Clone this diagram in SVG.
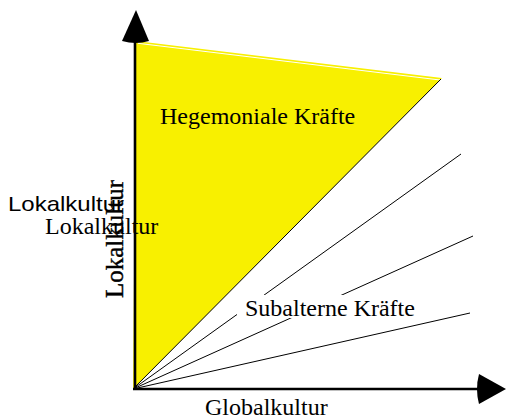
<svg xmlns="http://www.w3.org/2000/svg" width="507" height="419" viewBox="0 0 507 419">
<style>
.serif{font-family:"Liberation Serif","Times New Roman",serif;font-size:24px;fill:#000}
.sans{font-family:"Liberation Sans",Arial,sans-serif;font-size:21px;fill:#000}
.ray{stroke:#000;stroke-width:1;fill:none}
.axis{stroke:#000;stroke-width:2.6;fill:none}
.vert{font-size:25px;stroke:#000;stroke-width:0.4}
</style>
<rect width="507" height="419" fill="#fff"/>
<g id="hegemonial">
<polygon points="136,41 442,78 133,389" fill="#f8f000"/>
<line x1="138" y1="43.3" x2="440" y2="80" stroke="#fff" stroke-width="1"/>
<line x1="441" y1="79" x2="133" y2="389" class="ray"/>
<text class="serif" x="160" y="124">Hegemoniale Kräfte</text>
</g>
<g id="connectors">
<line class="ray" x1="133" y1="389" x2="461" y2="154"/>
<line class="ray" x1="133" y1="389" x2="473" y2="236"/>
<line class="ray" x1="133" y1="389" x2="470" y2="313"/>
<path class="axis" d="M135,389 V40"/>
<path class="axis" d="M133,389 H480"/>
<path d="M136,10 L122,41 Q136,45 149,41 Z" fill="#000"/>
<path d="M506,389 L479,374 Q475,389 479,404 Z" fill="#000"/>
</g>
<g id="subaltern">
<rect x="237" y="295" width="188" height="23" fill="#fff"/>
<text class="serif" x="245" y="316">Subalterne Kräfte</text>
</g>
<g id="global">
<text class="serif" x="205" y="415">Globalkultur</text>
</g>
<g id="lokal">
<text class="sans" x="8" y="211" textLength="116" lengthAdjust="spacingAndGlyphs">Lokalkultur</text>
<text class="serif" x="45" y="234">Lokalkultur</text>
<text class="serif vert" transform="translate(123,298) rotate(-90)">Lokalkultur</text>
</g>
</svg>
